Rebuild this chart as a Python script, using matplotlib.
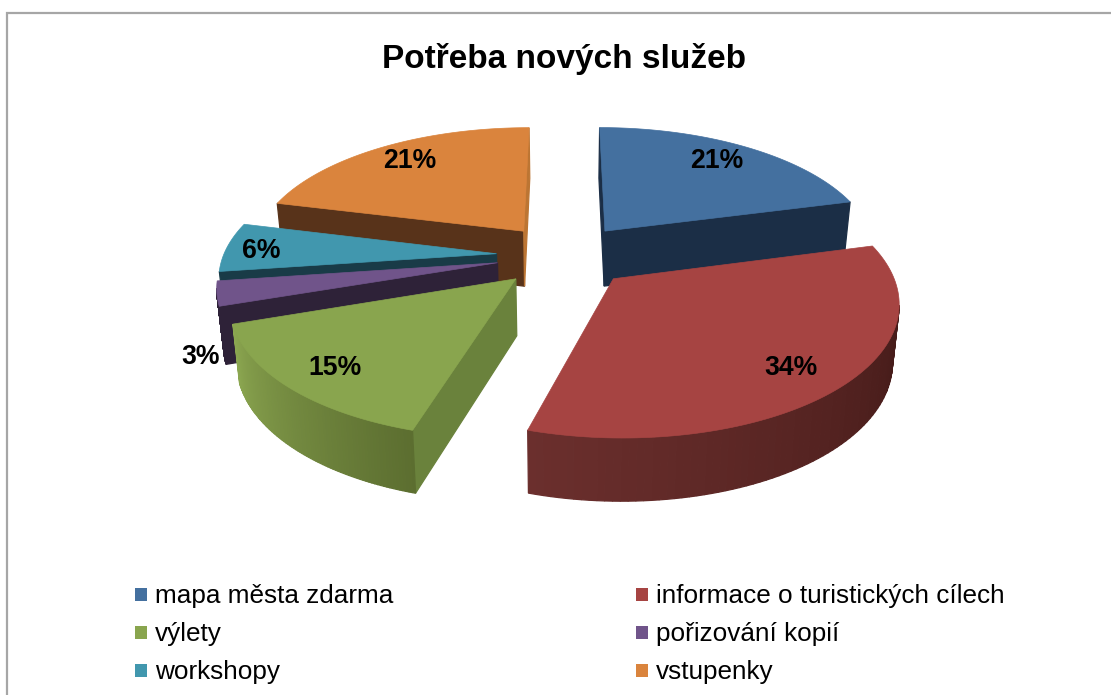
import numpy as np
import matplotlib
matplotlib.use("Agg")
import matplotlib.pyplot as plt
from matplotlib.colors import to_rgb
from matplotlib.patches import Polygon, Rectangle

plt.rcParams['font.family'] = ['Liberation Sans', 'DejaVu Sans']

TITLE = "Potřeba nových služeb"
categories = ["mapa města zdarma", "informace o turistických cílech", "výlety",
              "pořizování kopií", "workshopy", "vstupenky"]
values = [20.9, 33.7, 15.2, 3.0, 6.1, 21.1]
pct_labels = ["21%", "34%", "15%", "3%", "6%", "21%"]

top_colors = ["#44709F", "#A64442", "#89A54E", "#70548A", "#4197AE", "#DA843D"]
face_start = ["#1B2E46", "#4A1D1B", "#6A823C", "#2E2238", "#193B47", "#58331A"]
face_end = ["#1B2E46", "#4A1D1B", "#6A823C", "#2E2238", "#193B47", "#BC7533"]
rim_start = ["#1B2E46", "#3A1513", "#5C6E30", "#2E2238", "#193B47", "#58331A"]
rim_end = ["#1B2E46", "#6B2F2D", "#8BA650", "#2E2238", "#193B47", "#58331A"]
draw_order = [0, 5, 4, 3, 2, 1]

label_pos = [(717, 161), (791, 368), (335, 368), (201, 357), (261, 251), (410, 161)]

W, H = 1111, 695
CX, CY, AX, BY = 564.5, 255.4, 273.0, 126.5
PERSP, EXPLODE, DEPTH, SHRINK = 0.155, 0.25, 56.0, 0.98


def project(x, y):
    s = 1.0 / (1.0 + PERSP * y)
    return CX + AX * x * s, CY - BY * y * s, s


def lower(px, py, s):
    return CX + (px - CX) * SHRINK, py + DEPTH * s ** 0.6


def mix(a, b, t):
    a, b = np.array(to_rgb(a)), np.array(to_rgb(b))
    return tuple(a + (b - a) * t)


fig = plt.figure(figsize=(W / 100, H / 100), dpi=100, facecolor="white")
ax = fig.add_axes([0, 0, 1, 1])
ax.set_xlim(0, W)
ax.set_ylim(H, 0)
ax.axis("off")


def quad(p, q, c, z):
    a, b = lower(*p), lower(*q)
    ax.add_patch(Polygon([p[:2], q[:2], b, a], closed=True, fc=c, ec=c, lw=0.9, zorder=z))


fractions = np.array(values) / sum(values) * 360.0
starts = np.concatenate([[0.0], np.cumsum(fractions)[:-1]])

for z, i in enumerate(draw_order):
    a0 = np.radians(starts[i])
    a1 = np.radians(starts[i] + fractions[i])
    mid = (a0 + a1) / 2
    ox, oy = EXPLODE * np.sin(mid), EXPLODE * np.cos(mid)
    th = np.linspace(a0, a1, 90)
    tip = project(ox, oy)
    arc = [project(ox + np.sin(t), oy + np.cos(t)) for t in th]
    base = z * 10
    if arc[0][0] < tip[0]:
        quad(tip, arc[0], face_start[i], base)
    if tip[0] < arc[-1][0]:
        quad(arc[-1], tip, face_end[i], base)
    for k in range(len(arc) - 1):
        if arc[k + 1][0] < arc[k][0]:
            quad(arc[k], arc[k + 1], mix(rim_start[i], rim_end[i], k / (len(arc) - 2)), base + 1)
    pts = [tip[:2]] + [a[:2] for a in arc]
    ax.add_patch(Polygon(pts, closed=True, fc=top_colors[i], ec=top_colors[i], lw=0.5, zorder=base + 2))

for text, (x, y) in zip(pct_labels, label_pos):
    ax.text(x, y, text, ha="center", va="center", fontsize=19.2, fontweight="bold",
            color="black", zorder=200)

ax.text(564, 59, TITLE, ha="center", va="center", fontsize=24, fontweight="bold", color="black")

# frame: top and left only reach the picture edge
ax.plot([7, 7, W], [H, 13, 13], color="#A6A6A6", lw=1.6, solid_joinstyle="miter", clip_on=False)

leg_x = [135, 636]
leg_y = [594, 632, 670]
for i, name in enumerate(categories):
    x = leg_x[i % 2]
    y = leg_y[i // 2]
    ax.add_patch(Rectangle((x, y - 6.5), 12, 13, fc=top_colors[i], ec="none"))
    ax.text(x + 20, y + 1.5, name, ha="left", va="center", fontsize=18.8, color="black")

fig.savefig("out.png", dpi=100, facecolor="white")
